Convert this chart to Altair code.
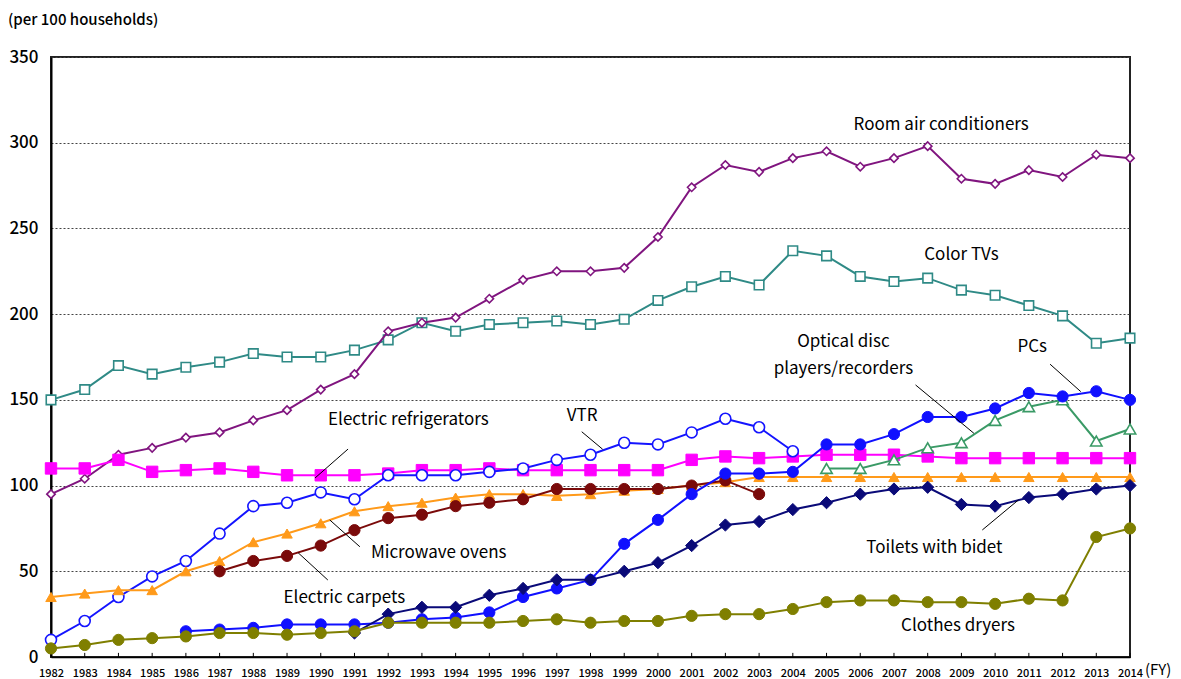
import altair as alt
import pandas as pd

# Ownership of consumer durables, number per 100 households, by fiscal year
years = list(range(1982, 2015))

room_ac = [95, 104, 118, 122, 128, 131, 138, 144, 156, 165, 190, 195, 198, 209, 220, 225, 225,
           227, 245, 274, 287, 283, 291, 295, 286, 291, 298, 279, 276, 284, 280, 293, 291]
color_tv = [150, 156, 170, 165, 169, 172, 177, 175, 175, 179, 185, 195, 190, 194, 195, 196, 194,
            197, 208, 216, 222, 217, 237, 234, 222, 219, 221, 214, 211, 205, 199, 183, 186]
refrigerator = [110, 110, 115, 108, 109, 110, 108, 106, 106, 106, 107,
                109, 109, 110, 109, 109, 109, 109, 109, 115, 117, 116, 117,
                118, 118, 118, 117, 116, 116, 116, 116, 116, 116]
vtr_years = list(range(1982, 2005))
vtr = [10, 21, 35, 47, 56, 72, 88, 90, 96, 92, 106, 106, 106, 108, 110, 115, 118, 125, 124,
       131, 139, 134, 120]
microwave = [35, 37, 39, 39, 50, 56, 67, 72, 78, 85, 88,
             90, 93, 95, 95, 94, 95, 97, 98, 100, 102, 105, 105,
             105, 105, 105, 105, 105, 105, 105, 105, 105, 105]
carpet_years = list(range(1987, 2004))
carpets = [50, 56, 59, 65, 74, 81, 83, 88, 90, 92, 98, 98, 98, 98, 100, 103, 95]
pc_years = list(range(1986, 2015))
pcs = [15, 16, 17, 19, 19, 19, 20, 22, 23, 26, 35, 40, 45, 66, 80, 95, 107, 107, 108,
       124, 124, 130, 140, 140, 145, 154, 152, 155, 150]
optical_years = list(range(2005, 2015))
optical = [110, 110, 115, 122, 125, 138, 146, 150, 126, 133]
toilet_years = list(range(1991, 2015))
toilets = [14, 25, 29, 29, 36, 40, 45, 45, 50, 55, 65, 77, 79, 86, 90, 95, 98, 99, 89, 88,
           93, 95, 98, 100]
dryers = [5, 7, 10, 11, 12, 14, 14, 13, 14, 15, 20, 20, 20, 20, 21, 22, 20, 21, 21, 24, 25,
          25, 28, 32, 33, 33, 32, 32, 31, 34, 33, 70, 75]

# name, years, values, colour, shape, filled, marker size
series = [
    ("Color TVs", years, color_tv, "#2f8a86", "square", False, 90),
    ("Room air conditioners", years, room_ac, "#80157f", "diamond", False, 70),
    ("Electric refrigerators", years, refrigerator, "#ff00ff", "square", True, 130),
    ("VTR", vtr_years, vtr, "#1414ff", "circle", False, 120),
    ("Microwave ovens", years, microwave, "#ff9a1a", "triangle-up", True, 110),
    ("Electric carpets", carpet_years, carpets, "#7a0a0a", "circle", True, 125),
    ("Optical disc players/recorders", optical_years, optical, "#3a9a66", "triangle-up", False, 130),
    ("PCs", pc_years, pcs, "#1010ff", "circle", True, 125),
    ("Toilets with bidet", toilet_years, toilets, "#0a0a78", "diamond", True, 150),
    ("Clothes dryers", years, dryers, "#7f7f00", "circle", True, 125),
]

# Label text and where it sits (year, value)
label_text = ["Room air conditioners", "Color TVs", "Optical disc", "players/recorders", "PCs",
              "Electric refrigerators", "VTR", "Microwave ovens", "Electric carpets",
              "Toilets with bidet", "Clothes dryers"]
label_x = [2008.4, 2009.0, 2005.5, 2005.5, 2011.1, 1992.6, 1997.75, 1993.5, 1990.7, 2008.2, 2008.9]
label_y = [310.5, 234.5, 183.8, 168.0, 180.9, 138.3, 140.6, 60.7, 34.4, 63.6, 18.1]

# Leader lines from labels to their series
lead_x = [1990.81, 1997.74, 1991.16, 1990.21, 2007.64, 2011.63, 2009.62]
lead_y = [121.3, 131.4, 64.3, 44.9, 158.7, 170.8, 74.1]
lead_x2 = [1989.83, 1998.36, 1990.27, 1989.33, 2009.37, 2012.54, 2010.69]
lead_y2 = [104.4, 121.2, 79.9, 60.8, 130.5, 154.8, 91.6]

FONT = "Noto Sans CJK JP"

x_scale = alt.Scale(domain=[1982, 2014], nice=False, zero=False)
y_scale = alt.Scale(domain=[0, 350], nice=False)

x_axis = alt.Axis(values=years, format="d", title=None, grid=False, ticks=False,
                  labelFontSize=11, labelFont=FONT, labelFontWeight=500, labelColor="#000",
                  labelPadding=10, labelAngle=0, domainColor="#000", domainWidth=1.5,
                  labelOverlap=False, labelFlush=False, labelBound=False)
y_axis = alt.Axis(values=[0, 50, 100, 150, 200, 250, 300, 350], title=None, grid=True,
                  gridColor="#444", gridDash=[2, 2], gridWidth=1, ticks=False,
                  labelFontSize=17, labelFont=FONT, labelFontWeight=500, labelColor="#000",
                  labelPadding=13, domainColor="#000", domainWidth=2,
                  labelOverlap=False, labelFlush=False)


def xy(xf, yf):
    return dict(
        x=alt.X(xf, scale=x_scale, axis=x_axis),
        y=alt.Y(yf, scale=y_scale, axis=y_axis),
    )


layers = []

# inward tick marks along the year axis
tick_df = pd.DataFrame({"year": years, "lo": [0] * len(years), "hi": [2.4] * len(years)})
layers.append(
    alt.Chart(tick_df).mark_rule(color="#000", strokeWidth=1).encode(
        **xy("year:Q", "lo:Q"), y2="hi:Q"
    )
)

for name, yrs, vals, color, shape, filled, size in series:
    df = pd.DataFrame({"year": yrs, "value": vals})
    base = alt.Chart(df).encode(**xy("year:Q", "value:Q"))
    layers.append(base.mark_line(color=color, strokeWidth=2))
    layers.append(base.mark_point(
        shape=shape, size=size, filled=True,
        fill=color if filled else "#ffffff",
        stroke=color, strokeWidth=1.6 if not filled else 1, opacity=1,
    ))

lead_df = pd.DataFrame({"x": lead_x, "y": lead_y, "x2": lead_x2, "y2": lead_y2})
layers.append(
    alt.Chart(lead_df).mark_rule(color="#000", strokeWidth=1).encode(
        **xy("x:Q", "y:Q"), x2="x2:Q", y2="y2:Q"
    )
)

label_df = pd.DataFrame({"text": label_text, "x": label_x, "y": label_y})
layers.append(
    alt.Chart(label_df).mark_text(font=FONT, fontSize=17, color="#000", align="center",
                                  baseline="middle").encode(
        **xy("x:Q", "y:Q"), text="text:N"
    )
)

one = pd.DataFrame({"t": [0]})
layers.append(
    alt.Chart(one).mark_text(font=FONT, fontSize=15, fontWeight=500, color="#000",
                             align="left", baseline="middle",
                             text="(per 100 households)").encode(
        x=alt.value(-43), y=alt.value(-37)
    )
)
layers.append(
    alt.Chart(one).mark_text(font=FONT, fontSize=15, color="#000", align="left",
                             baseline="middle", text="(FY)").encode(
        x=alt.value(1094), y=alt.value(613)
    )
)

chart = alt.layer(*layers).properties(
    width=1079, height=600,
    padding={"left": 51, "top": 57, "right": 51, "bottom": 22},
    autosize=alt.AutoSizeParams(type="none"),
    background="#ffffff",
).configure_view(stroke="#222", strokeWidth=2)

chart.save("out.html", embed_options={"renderer": "svg", "actions": False})
